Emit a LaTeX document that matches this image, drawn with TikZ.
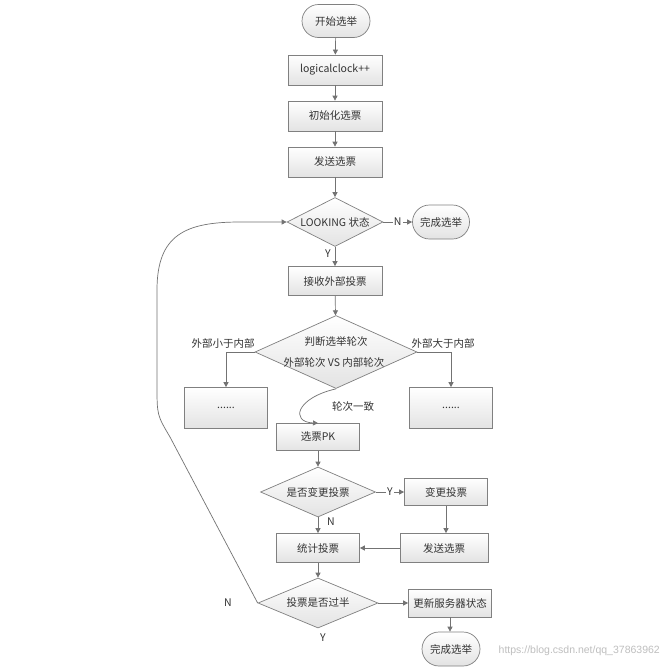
\documentclass[tikz,border=0pt]{standalone}
\usepackage{fontspec}
\setmainfont{Noto Sans CJK SC}
\newfontfamily\wmfont{Liberation Sans}
\usetikzlibrary{shapes.geometric,shapes.misc,arrows.meta}
\begin{document}
\begin{tikzpicture}[x=1pt,y=-1pt,
  every node/.style={font=\fontsize{10.5}{12}\selectfont, text=black!80},
  shade/.style={top color=white, bottom color=black!11},
  box/.style={draw=black!50, line width=0.7pt, shade, inner sep=0pt, minimum width=83pt, minimum height=28pt},
  term/.style={rounded rectangle, draw=black!50, line width=0.7pt, shade, inner sep=0pt},
  dia/.style={diamond, draw=black!50, line width=0.7pt, shade, inner sep=0pt},
  arr/.style={draw=black!55, line width=0.7pt, -{Triangle[length=5pt,width=5pt]}},
  lbl/.style={fill=white, inner sep=1pt},
  txt/.style={inner sep=0pt}
]
\useasboundingbox[fill=white] (0,0) rectangle (666,672);

% nodes
\node[term, minimum width=68pt, minimum height=33pt] (s) at (336,21) {开始选举};
\node[box, minimum width=94pt, minimum height=30pt] (b1) at (335,70) {logicalclock++};
\node[box, minimum width=94pt, minimum height=30pt] (b2) at (335,116) {初始化选票};
\node[box, minimum width=94pt, minimum height=30pt] (b3) at (335,162) {发送选票};
\node[dia, minimum width=96pt, minimum height=49pt] (d1) at (335,222) {};
\node[txt] (d1t) at (d1) {LOOKING 状态};
\node[term, minimum width=57pt, minimum height=34pt] (e1) at (441,222) {完成选举};
\node[box, minimum width=94pt, minimum height=29pt] (b4) at (335,281) {接收外部投票};
\node[dia, minimum width=162pt, minimum height=73pt] (d2) at (336,352) {};
\node[txt] (d2a) at (336,342) {判断选举轮次};
\node[txt] (d2b) at (334,363) {外部轮次 VS 内部轮次};
\node[txt] (l1) at (223,343) {外部小于内部};
\node[txt] (l2) at (443,343) {外部大于内部};
\node[box, minimum height=41pt] (bl) at (226,408) {......};
\node[box, minimum height=41pt] (br) at (451,408) {......};
\node[txt] (l3) at (353,407) {轮次一致};
\node[box, minimum height=27pt] (pk) at (318,437) {选票PK};
\node[dia, minimum width=115pt, minimum height=50pt] (d3) at (318,492) {};
\node[txt] (d3t) at (d3) {是否变更投票};
\node[box, minimum height=27pt] (bc) at (446,492) {变更投票};
\node[box, minimum height=29pt] (tj) at (318,548) {统计投票};
\node[box, minimum width=88pt, minimum height=29pt] (fs) at (444,548) {发送选票};
\node[dia, minimum width=120pt, minimum height=50pt] (d4) at (318,603) {};
\node[txt] (d4t) at (d4) {投票是否过半};
\node[box, minimum height=28pt] (up) at (450,603) {更新服务器状态};
\node[term, minimum width=58pt, minimum height=34pt] (e2) at (451,649) {完成选举};

% connectors
\draw[arr] (s) -- (b1);
\draw[arr] (b1) -- (b2);
\draw[arr] (b2) -- (b3);
\draw[arr] (b3) -- (d1);
\draw[arr] (d1.east) -- node[lbl] (nN1) {N} (e1.west);
\draw[arr] (d1.south) -- (b4.north);
\node[txt] (nY1) at (328,254) {Y};
\draw[arr] (b4) -- (d2);
\draw[arr] (d2.west) -| (bl.north);
\draw[arr] (d2.east) -| (br.north);
\draw[arr] (d2.south) .. controls (296,398) and (290,422) .. (pk.north);
\draw[arr] (pk) -- (d3);
\draw[arr] (d3.east) -- node[lbl] (nY2) {Y} (bc.west);
\draw[arr] (d3.south) -- (tj.north);
\node[txt] (nN2) at (331,522) {N};
\draw[arr] (bc.south) -- (bc.south |- fs.north);
\draw[arr] (fs.west) -- (tj.east);
\draw[arr] (tj) -- (d4);
\draw[arr] (d4.east) -- (up.west);
\draw[arr] (up.south) -- (up.south |- e2.north);
\coordinate (c1) at (170,437);
\coordinate (c2) at (157,385);
\coordinate (c3) at (157,290);
\coordinate (c4) at (240,222);
\draw[arr] (d4.west) -- (c1) .. controls (157,415) .. (c2) -- (c3) .. controls (157,235) and (185,222) .. (c4) -- (d1.west);
\node[txt] (nN3) at (228,603) {N};
\node[txt] (nY3) at (323,638) {Y};

% watermark
\node[txt, anchor=east, font=\wmfont\fontsize{10.5}{12}\selectfont, text=black!25] (wm) at (660,651) {https://blog.csdn.net/qq\_37863962};
\end{tikzpicture}
\end{document}
